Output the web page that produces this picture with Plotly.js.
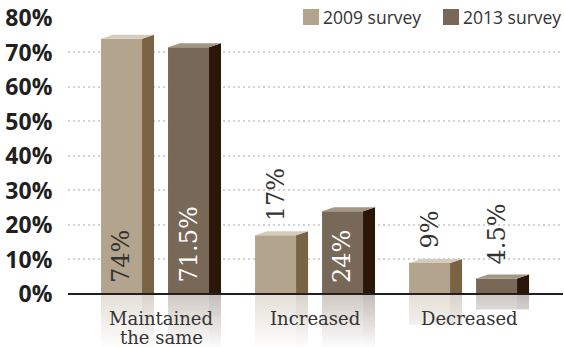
<!DOCTYPE html>
<html>
<head>
<meta charset="utf-8">
<script src="https://cdn.plot.ly/plotly-3.0.1.min.js"></script>
<style>
html,body{margin:0;padding:0;background:#fff;}
#chart{width:564px;height:347px;}
</style>
</head>
<body>
<div id="chart"></div>
<script>
// ---- data ----
const categories = ['Maintained<br>the same', 'Increased', 'Decreased'];
const seriesNames = ['2009 survey', '2013 survey'];
const values2009 = [74, 17, 9];
const values2013 = [71.5, 24, 4.5];
const tickVals = [0, 10, 20, 30, 40, 50, 60, 70, 80];
const tickText = ['0%', '10%', '20%', '30%', '40%', '50%', '60%', '70%', '80%'];

// ---- style ----
const W = 564, H = 347;
const M = {l: 68, r: 1, t: 18, b: 0};
const XR = [-0.604, 2.610];
const YR = [-15.38, 80];
const pw = W - M.l - M.r, ph = H - M.t - M.b;
const pxX = pw / (XR[1] - XR[0]);
const pxY = ph / (YR[1] - YR[0]);
const FRONT_W = 41 / pxX, SIDE_W = 12 / pxX, TOP_D = 4 / pxY;
const OFFSETS = [-60 / pxX, 7 / pxX];
const FRONT = ['#b3a48e', '#786857'];
const SIDE = ['#7a6344', '#2a1708'];
const TOP = ['#d6ccbe', '#a49684'];
const INSIDE_TXT = ['#333333', '#ffffff'];
const series = [values2009, values2013];
const xs = categories.map((c, i) => i);

const traces = series.map((vals, s) => ({
  type: 'bar', x: xs, y: vals, width: FRONT_W, offset: OFFSETS[s],
  marker: {color: FRONT[s], line: {width: 0}}, hoverinfo: 'none', showlegend: false
}));

const shapes = [];
// reflections
const REF_LEN = 56, BAND = 2;
series.forEach((vals, s) => {
  vals.forEach((v, i) => {
    const xl = i + OFFSETS[s], xr = xl + FRONT_W;
    const maxPx = Math.min(REF_LEN, v * pxY);
    for (let d = 0; d < maxPx; d += BAND) {
      const d1 = Math.min(d + BAND, maxPx);
      const op = 0.36 * (1 - (d + BAND / 2) / REF_LEN);
      const y0 = -d / pxY, y1 = -d1 / pxY;
      shapes.push({type: 'rect', xref: 'x', yref: 'y', x0: xl, x1: xr, y0: y0, y1: y1,
        fillcolor: FRONT[s], opacity: op, line: {width: 0}, layer: 'below'});
      shapes.push({type: 'rect', xref: 'x', yref: 'y', x0: xr, x1: xr + SIDE_W, y0: y0, y1: y1,
        fillcolor: SIDE[s], opacity: op * 0.8, line: {width: 0}, layer: 'below'});
    }
  });
});
// 3D side and top faces
series.forEach((vals, s) => {
  vals.forEach((v, i) => {
    const xl = i + OFFSETS[s], xr = xl + FRONT_W;
    shapes.push({type: 'path', xref: 'x', yref: 'y', layer: 'above',
      path: `M${xr},0 L${xr + SIDE_W},0 L${xr + SIDE_W},${v + TOP_D} L${xr},${v} Z`,
      fillcolor: SIDE[s], line: {width: 0}});
    shapes.push({type: 'path', xref: 'x', yref: 'y', layer: 'above',
      path: `M${xl},${v} L${xl + SIDE_W},${v + TOP_D} L${xr + SIDE_W},${v + TOP_D} L${xr},${v} Z`,
      fillcolor: TOP[s], line: {width: 0}});
  });
});
// baseline
shapes.push({type: 'line', xref: 'paper', yref: 'y', x0: 0, x1: 1, y0: 0, y1: 0,
  line: {color: '#231f20', width: 2}, layer: 'above'});

// legend (white backdrop, swatches)
const px2paperX = p => (p - M.l) / pw;
const px2paperY = p => (H - M.b - p) / ph;
shapes.push({type: 'rect', xref: 'paper', yref: 'paper', x0: px2paperX(268), x1: px2paperX(566),
  y0: px2paperY(32), y1: px2paperY(-2), fillcolor: '#ffffff', line: {width: 0}, layer: 'above'});
const LEG_X = [303, 443];
const LEG_TXT_X = [321, 461];
seriesNames.forEach((n, s) => {
  shapes.push({type: 'rect', xref: 'paper', yref: 'paper', x0: px2paperX(LEG_X[s]), x1: px2paperX(LEG_X[s] + 16),
    y0: px2paperY(25), y1: px2paperY(9), fillcolor: FRONT[s], line: {width: 0}, layer: 'above'});
});

const annotations = [];
seriesNames.forEach((n, s) => {
  annotations.push({xref: 'paper', yref: 'paper', x: px2paperX(LEG_TXT_X[s]), y: px2paperY(17),
    xanchor: 'left', yanchor: 'middle', text: n, showarrow: false,
    font: {family: 'Open Sans', size: 17.5, color: '#333333'}});
});
// value labels
series.forEach((vals, s) => {
  vals.forEach((v, i) => {
    const xc = i + OFFSETS[s] + FRONT_W / 2;
    const inside = v >= 20;
    annotations.push({xref: 'x', yref: 'y', x: xc, y: inside ? 0 : v,
      xanchor: 'center', yanchor: 'bottom', yshift: inside ? 9 : 12,
      text: v + '%', textangle: -90, showarrow: false,
      font: {family: 'DejaVu Serif', size: 24, color: inside ? INSIDE_TXT[s] : '#333333'}});
  });
});
// category labels (one annotation per line, 19px line spacing)
const LINE_H = 19;
categories.forEach((c, i) => {
  c.split('<br>').forEach((line, k) => {
    annotations.push({xref: 'x', yref: 'y', x: i, y: 0, xanchor: 'center', yanchor: 'top',
      yshift: -12 - k * LINE_H, text: line, showarrow: false,
      font: {family: 'DejaVu Serif', size: 18, color: '#333333'}});
  });
});

const layout = {
  width: W, height: H, margin: M, paper_bgcolor: '#ffffff', plot_bgcolor: '#ffffff',
  barmode: 'overlay', showlegend: false,
  xaxis: {range: XR, showgrid: false, zeroline: false, showticklabels: false, showline: false, fixedrange: true},
  yaxis: {range: YR, tickvals: tickVals, ticktext: tickText, showgrid: true, gridcolor: '#d2d2d2',
    griddash: '2px,3px', gridwidth: 2, zeroline: false, showline: false,
    ticks: 'outside', ticklen: 10, tickcolor: 'rgba(0,0,0,0)',
    tickfont: {family: 'Open Sans', size: 23, color: '#231f20', weight: 'bold'}, fixedrange: true},
  shapes: shapes, annotations: annotations
};

Plotly.newPlot('chart', traces, layout, {displayModeBar: false, staticPlot: true});
</script>
</body>
</html>
